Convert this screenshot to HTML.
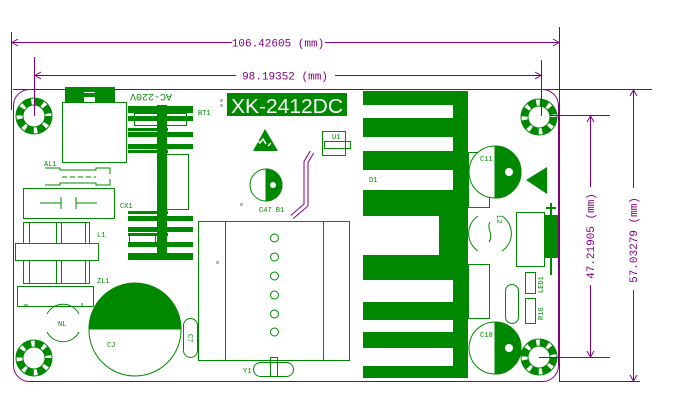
<!DOCTYPE html>
<html><head><meta charset="utf-8"><style>
html,body{margin:0;padding:0;background:#fff;}
svg{display:block;font-family:"Liberation Mono",monospace;}
</style></head><body>
<svg width="685" height="409" viewBox="0 0 685 409" xmlns="http://www.w3.org/2000/svg">
<defs>
<g id="hole">
<circle r="18" fill="none" stroke="#080" stroke-width="1"/>
<circle r="14.5" fill="none" stroke="#080" stroke-width="7" stroke-dasharray="8 3.5"/>
<circle r="11" fill="#fff" stroke="#080" stroke-width="1"/>
</g>
</defs>
<g fill="none" stroke="#800080" stroke-width="1">
<!-- board -->
<rect x="13.5" y="89.5" width="545" height="292" rx="16"/>
<line x1="13" y1="89.5" x2="652" y2="89.5"/>
<!-- top dims -->
<line x1="11.5" y1="32" x2="11.5" y2="110"/>
<line x1="559.5" y1="27" x2="559.5" y2="382"/>
<line x1="12" y1="42.5" x2="232" y2="42.5"/>
<line x1="325" y1="42.5" x2="559" y2="42.5"/>
<polyline points="18,39 12,42.5 18,46"/>
<polyline points="553,39 559,42.5 553,46"/>
<line x1="34.5" y1="57" x2="34.5" y2="116"/>
<line x1="541.5" y1="60" x2="541.5" y2="117"/>
<line x1="35" y1="75.5" x2="236" y2="75.5"/>
<line x1="335" y1="75.5" x2="541" y2="75.5"/>
<polyline points="41,72 35,75.5 41,79"/>
<polyline points="535,72 541,75.5 535,79"/>
<!-- right dims -->
<line x1="541" y1="115.5" x2="610" y2="115.5"/>
<line x1="541" y1="357.5" x2="610" y2="357.5"/>
<line x1="560" y1="381.5" x2="640" y2="381.5"/>
<line x1="590.5" y1="116" x2="590.5" y2="187"/>
<line x1="590.5" y1="285" x2="590.5" y2="357"/>
<polyline points="587,122 590.5,116 594,122"/>
<polyline points="587,351 590.5,357 594,351"/>
<line x1="633.5" y1="90" x2="633.5" y2="188"/>
<line x1="633.5" y1="290" x2="633.5" y2="381"/>
<polyline points="630,96 633.5,90 637,96"/>
<polyline points="630,375 633.5,381 637,375"/>
</g>
<g fill="#800080" font-size="11">
<text x="278" y="46.5" text-anchor="middle">106.42605 (mm)</text>
<text x="285" y="79.5" text-anchor="middle">98.19352 (mm)</text>
<text transform="translate(594,236) rotate(-90)" text-anchor="middle">47.21905 (mm)</text>
<text transform="translate(637,240) rotate(-90)" text-anchor="middle">57.03279 (mm)</text>
</g>
<!-- holes -->
<use href="#hole" x="34" y="116"/>
<use href="#hole" x="34" y="358"/>
<use href="#hole" x="539" y="117"/>
<use href="#hole" x="539" y="357"/>
<line x1="34.5" y1="100" x2="34.5" y2="116" stroke="#800080"/>
<line x1="541.5" y1="100" x2="541.5" y2="116" stroke="#800080"/>
<line x1="539" y1="357.5" x2="559" y2="357.5" stroke="#800080"/>

<g fill="#080" stroke="none">
<!-- H block -->
<rect x="65" y="87" width="19" height="16"/>
<rect x="95" y="87" width="20" height="16"/>
<rect x="65" y="87" width="50" height="5"/>
<rect x="84" y="93" width="11" height="4"/>
<!-- BT1 heatsink -->
<rect x="157" y="105" width="10" height="155"/>
<rect x="128" y="106" width="65" height="7"/>
<rect x="128" y="116" width="65" height="5"/>
<rect x="128" y="128" width="40" height="3"/>
<rect x="128" y="132" width="65" height="5"/>
<rect x="128" y="144" width="65" height="5"/>
<rect x="128" y="150" width="40" height="3"/>
<rect x="128" y="211" width="40" height="3"/>
<rect x="128" y="216" width="65" height="5"/>
<rect x="128" y="227" width="65" height="5"/>
<rect x="128" y="233" width="40" height="3"/>
<rect x="128" y="242" width="65" height="5"/>
<rect x="128" y="253" width="65" height="7"/>
<!-- XK label -->
<rect x="227" y="93" width="120" height="23"/>
<!-- D1 heatsink -->
<path fill-rule="evenodd" d="M363,91H468V378H363Z M363,105H453V118H363Z M363,137H453V151H363Z M363,170H453V190H363Z M363,216H439V255H363Z M363,280H453V302H363Z M363,320H453V332H363Z M363,348H453V366H363Z"/>
<!-- diode -->
<rect x="545" y="215" width="13" height="43"/>
<rect x="550" y="203" width="2" height="72"/>
<rect x="546" y="207" width="10" height="2"/>
<!-- ESD triangles -->
<polygon points="265,129 253,151 278,151"/>
<polygon points="547,167 547,194 526,180"/>
</g>
<g fill="#bbb"><rect x="220" y="99" width="3" height="3"/><rect x="220" y="104" width="3" height="3"/><rect x="240" y="203" width="3" height="3"/><rect x="216" y="261" width="3" height="3"/></g>
<g fill="#fff" font-family="Liberation Sans,sans-serif" font-size="20">
<text x="287" y="113" text-anchor="middle" textLength="112" lengthAdjust="spacingAndGlyphs">XK-2412DC</text>
</g>

<g fill="none" stroke="#080" stroke-width="1">
<text x="149" y="92" transform="rotate(180 150 93)" fill="#080" stroke="none" font-size="10" text-anchor="middle">AC-220V</text>
<rect x="62.5" y="102.5" width="64" height="60"/>
<!-- BT1 outlines -->
<rect x="134.5" y="113.5" width="52" height="12"/>
<rect x="166.5" y="154.5" width="22" height="55"/>
<rect x="129.5" y="234.5" width="26" height="9"/>
<!-- AL1 fuse -->
<path d="M45,168 H60 V170 H96 V168 H110 V174 M45,185 H60 V183 H96 V185 H110 V179"/>
<line x1="62" y1="177" x2="96" y2="177" stroke-dasharray="5 3"/>
<rect x="23.5" y="188.5" width="91" height="30"/>
<path d="M40,203 H61 M61,197 V209 M76,197 V209 M76,203 H97"/>
<!-- L1 -->
<rect x="23.5" y="222.5" width="66" height="61"/>
<line x1="29.5" y1="222" x2="29.5" y2="283"/>
<line x1="56.5" y1="222" x2="56.5" y2="283"/>
<line x1="61.5" y1="222" x2="61.5" y2="283"/>
<line x1="85.5" y1="222" x2="85.5" y2="283"/>
<rect x="15.5" y="243.5" width="83" height="17" fill="#fff"/>
<rect x="17.5" y="286.5" width="76" height="20"/>
<line x1="24" y1="305" x2="28" y2="305"/>
<line x1="82" y1="303" x2="82" y2="306"/>
<!-- NL -->
<path d="M47,314 A18,18 0 0 1 79,314 M47,332 A18,18 0 0 0 79,332"/>
<!-- CJ -->
<circle cx="135" cy="330" r="46"/>
<path d="M89,329 A46,46 0 0 1 181,329 Z" fill="#080"/>
<rect x="183.5" y="318.5" width="14" height="39" rx="7"/>
<!-- transformer -->
<rect x="198.5" y="221.5" width="151" height="139"/>
<line x1="225.5" y1="222" x2="225.5" y2="360"/>
<line x1="323.5" y1="222" x2="323.5" y2="360"/>
<circle cx="274.5" cy="238" r="4"/><circle cx="274.5" cy="257" r="4"/><circle cx="274.5" cy="276" r="4"/><circle cx="274.5" cy="295" r="4"/><circle cx="274.5" cy="314" r="4"/><circle cx="274.5" cy="332" r="4"/>
<rect x="253.5" y="362.5" width="40" height="14" rx="7"/>
<rect x="270.5" y="357.5" width="7" height="19"/>
<!-- C47 -->
<circle cx="266" cy="185" r="16"/>
<path d="M266,169 A16,16 0 0 1 266,201 Z" fill="#080"/>
<circle cx="273" cy="185" r="3" fill="#fff" stroke="none"/>
<!-- U1 -->
<rect x="322.5" y="131.5" width="23" height="24"/>
<rect x="324.5" y="141.5" width="26" height="7"/>
<!-- C11 -->
<rect x="468.5" y="152.5" width="21" height="55"/>
<circle cx="495" cy="172" r="26" fill="#fff"/>
<path d="M495,146 A26,26 0 0 1 495,198 Z" fill="#080"/>
<circle cx="509" cy="172" r="4" fill="#fff" stroke="none"/>
<!-- L2 -->
<path d="M478,216 A21,21 0 0 0 478,251 M502,216 A21,21 0 0 1 502,251 M490,222 C486,228 494,234 489,242"/>
<rect x="516.5" y="212.5" width="28" height="54"/>
<rect x="468.5" y="264.5" width="21" height="54"/>
<rect x="505.5" y="284.5" width="13" height="39" rx="6.5"/>
<rect x="525.5" y="272.5" width="10" height="21"/>
<rect x="525.5" y="298.5" width="10" height="25"/>
<!-- C10 -->
<circle cx="495" cy="348" r="26" fill="#fff"/>
<path d="M495,322 A26,26 0 0 1 495,374 Z" fill="#080"/>
<circle cx="509" cy="348" r="4" fill="#fff" stroke="none"/>
</g>
<!-- purple diagonal outline -->
<path d="M312,152 L306,162 V205 L292,217" fill="none" stroke="#800080" stroke-width="5"/>
<path d="M312,152 L306,162 V205 L292,217" fill="none" stroke="#fff" stroke-width="3"/>
<path d="M253,144 l4,-4 3,3 3,-4 3,5 M268,146 l3,-3" stroke="#fff" stroke-width="1.5" fill="none"/>
<g fill="#080" font-size="7">
<text x="198" y="115">BT1</text>
<text x="44" y="166">AL1</text>
<text x="120" y="208">CX1</text>
<text x="97" y="237">L1</text>
<text x="97" y="283">ZL1</text>
<text x="58" y="326">NL</text>
<text x="107" y="347">CJ</text>
<text transform="translate(188,334) rotate(90)">C7</text>
<text x="259" y="212">C47 B1</text>
<text x="243" y="373">Y1</text>
<text x="332" y="139">U1</text>
<text x="369" y="182">D1</text>
<text x="480" y="161">C11</text>
<text x="480" y="337">C10</text>
<text transform="translate(497,215) rotate(90)">L2</text>
<text transform="translate(543,293) rotate(-90)">LED1</text>
<text transform="translate(543,320) rotate(-90)">R16</text>
</g>
</svg>
</body></html>
